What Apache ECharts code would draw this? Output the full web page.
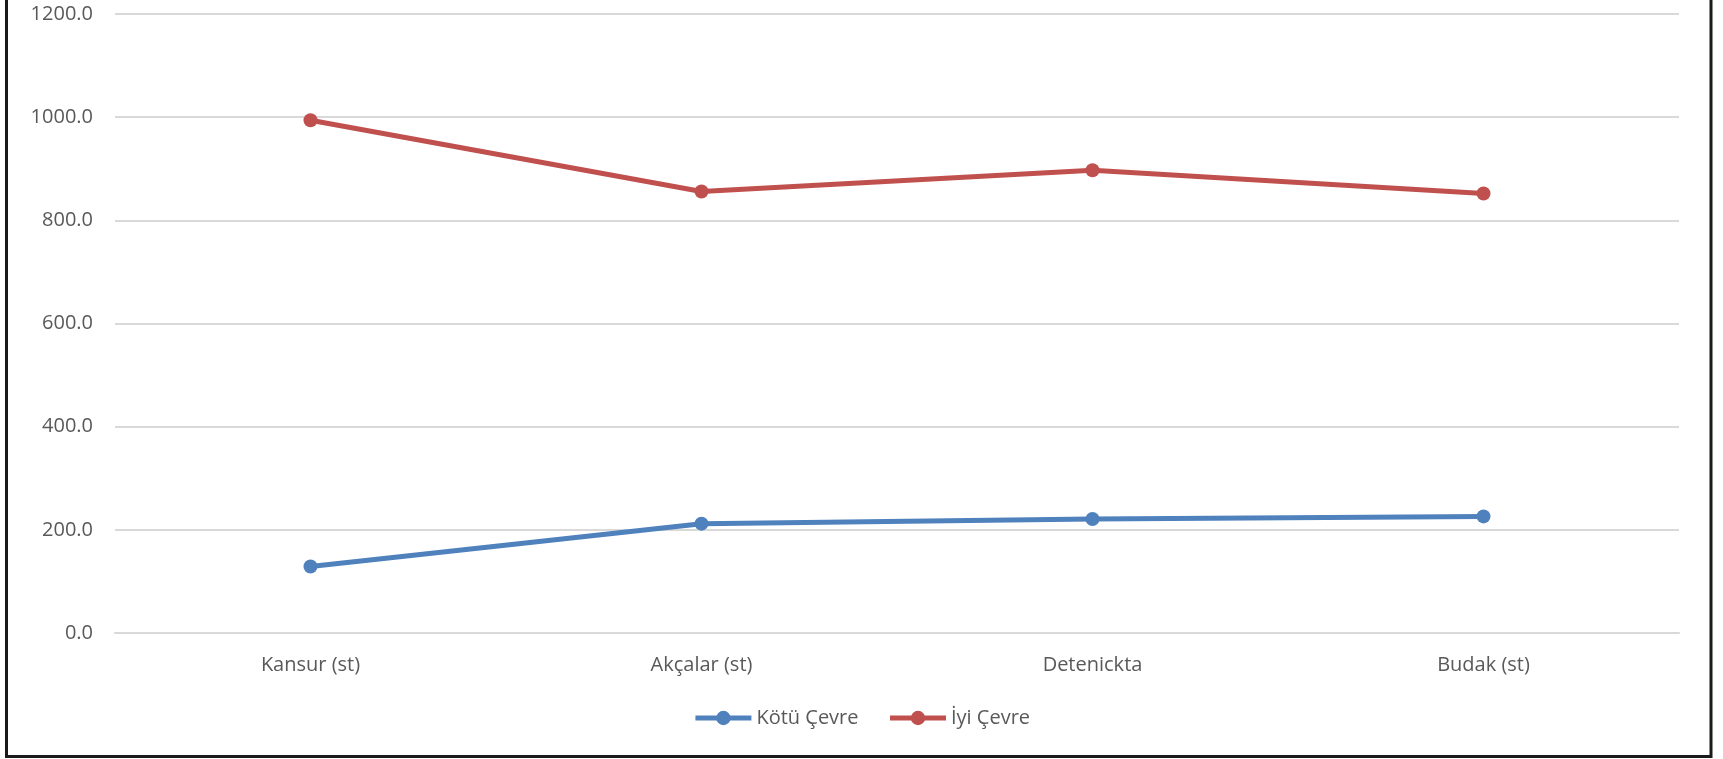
<!DOCTYPE html>
<html>
<head>
<meta charset="utf-8">
<style>
html,body{margin:0;padding:0;background:#fff;}
#chart{width:1723px;height:759px;}
</style>
<script src="https://cdn.jsdelivr.net/npm/echarts@6/dist/echarts.min.js"></script>
</head>
<body>
<div id="chart"></div>
<script>
const categories = ['Kansur (st)', 'Akçalar (st)', 'Detenickta', 'Budak (st)'];
const kotuCevre = [129, 212, 221, 226];
const iyiCevre = [994, 856, 897, 852];
const seriesNames = ['Kötü Çevre', 'İyi Çevre'];

const chart = echarts.init(document.getElementById('chart'));
const font = 'Open Sans';
chart.setOption({
  backgroundColor: '#ffffff',
  animation: false,
  textStyle: { fontFamily: font },
  grid: { left: 115, right: 44, top: 14, bottom: 126, containLabel: false },
  legend: {
    data: seriesNames,
    left: 'center',
    top: 703,
    itemWidth: 56,
    itemHeight: 18,
    itemGap: 29,
    lineStyle: { width: 5 },
    textStyle: { color: '#595959', fontSize: 20, fontFamily: font }
  },
  xAxis: {
    type: 'category',
    data: categories,
    boundaryGap: true,
    axisLine: { show: true, lineStyle: { color: '#D9D9D9', width: 2 } },
    axisTick: { show: false },
    axisLabel: { color: '#595959', fontSize: 20, margin: 22, fontFamily: font },
    splitLine: { show: false }
  },
  yAxis: {
    type: 'value',
    min: 0,
    max: 1200,
    interval: 200,
    axisLine: { show: false },
    axisTick: { show: false },
    axisLabel: { color: '#595959', fontSize: 20, margin: 22, fontFamily: font,
      formatter: v => v.toFixed(1) },
    splitLine: { show: true, lineStyle: { color: '#D9D9D9', width: 2 } }
  },
  series: [
    {
      name: seriesNames[0],
      type: 'line',
      data: kotuCevre,
      symbol: 'circle',
      symbolSize: 14,
      lineStyle: { color: '#4F81BD', width: 5 },
      itemStyle: { color: '#4F81BD' }
    },
    {
      name: seriesNames[1],
      type: 'line',
      data: iyiCevre,
      symbol: 'circle',
      symbolSize: 14,
      lineStyle: { color: '#C0504D', width: 5 },
      itemStyle: { color: '#C0504D' }
    }
  ],
  graphic: [
    {
      type: 'rect',
      silent: true,
      shape: { x: 6.5, y: -10, width: 1704.5, height: 766.5 },
      style: { fill: 'none', stroke: '#1a1a1a', lineWidth: 3 }
    }
  ]
});
</script>
</body>
</html>
